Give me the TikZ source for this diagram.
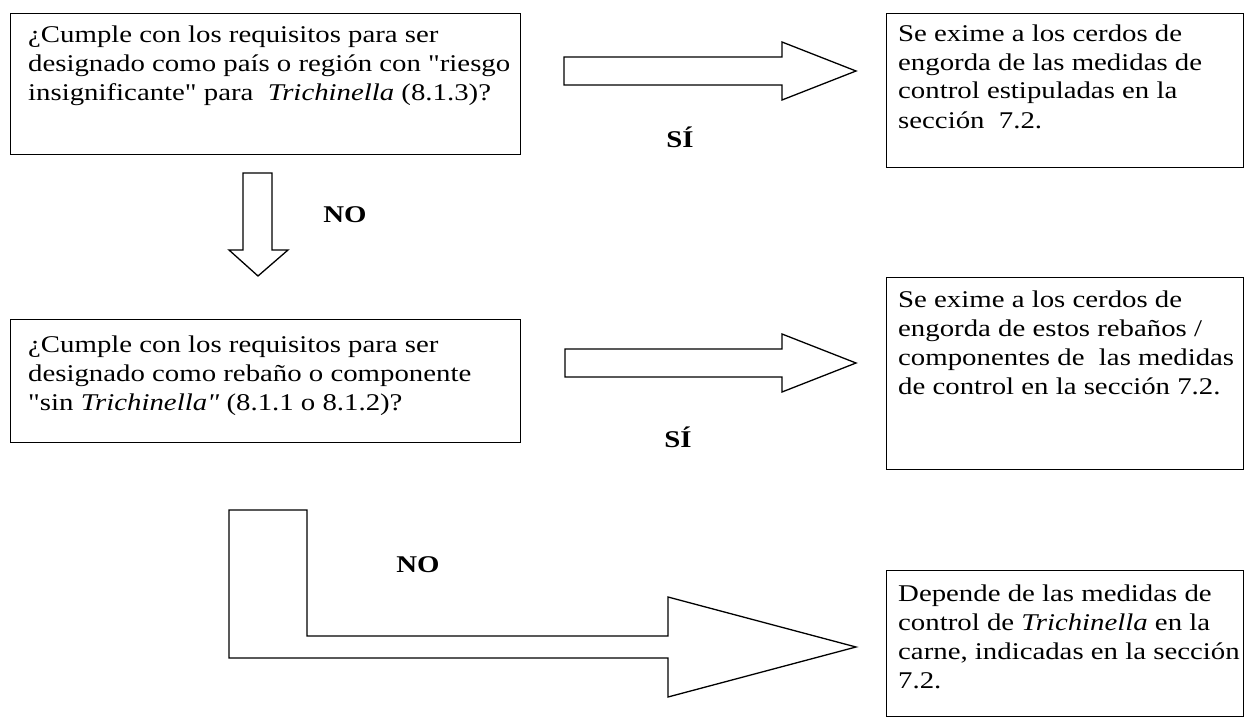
\documentclass[tikz,border=0pt]{standalone}
\usepackage{fontspec}
\setmainfont{Liberation Serif}
\newfontfamily\widefont[FakeStretch=1.2]{Liberation Serif}
\usetikzlibrary{calc}
\newcommand\dq{\symbol{34}}
\tikzset{
  boxnode/.style={draw, line width=1.4pt, inner sep=0pt, anchor=north west},
  txt/.style={anchor=base west, align=left, inner sep=0pt, font=\widefont\fontsize{24}{29}\selectfont},
  lbl/.style={inner sep=0pt, font=\widefont\fontsize{24}{29}\selectfont\bfseries},
  blockarrow/.style={draw, line width=1.3pt, line join=miter, fill=white}
}
\begin{document}
\begin{tikzpicture}[x=1pt,y=-1pt]
\useasboundingbox (0,0) rectangle (1253,717);
% boxes
\node[boxnode, minimum width=510pt, minimum height=141pt] (q1) at (10,13) {};
\node[boxnode, minimum width=357pt, minimum height=154pt] (r1) at (886,13) {};
\node[boxnode, minimum width=510pt, minimum height=123pt] (q2) at (10,319) {};
\node[boxnode, minimum width=357pt, minimum height=192pt] (r2) at (886,277) {};
\node[boxnode, minimum width=357pt, minimum height=146pt] (r3) at (886,570) {};
% texts (anchored at the baseline of the last line)
\node[txt] (t1) at ($(q1.north west)+(18,87)$) {¿Cumple con los requisitos para ser\\designado como país o región con \dq riesgo\\insignificante\dq{} para \ \textit{Trichinella} (8.1.3)?};
\node[txt] (t2) at ($(r1.north west)+(12,115)$) {Se exime a los cerdos de\\engorda de las medidas de\\control estipuladas en la\\sección \ 7.2.};
\node[txt] (t3) at ($(q2.north west)+(18,91)$) {¿Cumple con los requisitos para ser\\designado como rebaño o componente\\\dq sin \textit{Trichinella\dq} (8.1.1 o 8.1.2)?};
\node[txt] (t4) at ($(r2.north west)+(12,117)$) {Se exime a los cerdos de\\engorda de estos rebaños /\\componentes de \ las medidas\\de control en la sección 7.2.};
\node[txt] (t5) at ($(r3.north west)+(12,118)$) {Depende de las medidas de\\control de \textit{Trichinella} en la\\carne, indicadas en la sección\\7.2.};
% block arrows
\draw[blockarrow] (564,57) -- (782,57) -- (782,42) -- (856,71) -- (782,100) -- (782,85) -- (564,85) -- cycle;
\draw[blockarrow] (243,173) -- (272,173) -- (272,250) -- (288,250) -- (258,276) -- (229,250) -- (243,250) -- cycle;
\draw[blockarrow] (565,349) -- (782,349) -- (782,334) -- (856,363) -- (782,392) -- (782,377) -- (565,377) -- cycle;
\draw[blockarrow] (229,510) -- (307,510) -- (307,636) -- (668,636) -- (668,597) -- (856,647) -- (668,697) -- (668,658) -- (229,658) -- cycle;
% labels
\node[lbl] (s1) at (680,137) {SÍ};
\node[lbl] (n1) at (345,215) {NO};
\node[lbl] (s2) at (678,437) {SÍ};
\node[lbl] (n2) at (418,565) {NO};
\end{tikzpicture}
\end{document}
